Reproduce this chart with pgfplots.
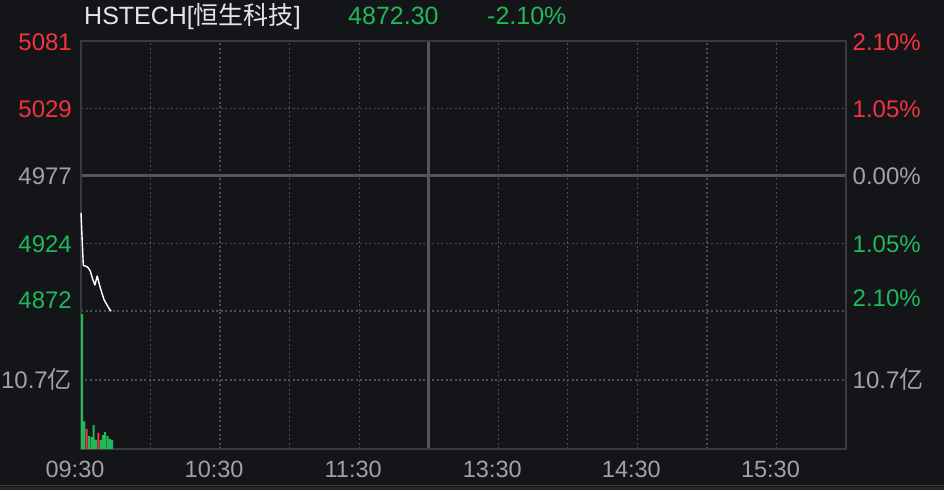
\documentclass[border=0pt]{standalone}
\usepackage{pgfplots}
\pgfplotsset{compat=1.18}
\usepackage{fontspec}
\setmainfont{Liberation Sans}
\newfontfamily\cjk{Noto Sans CJK SC}
\definecolor{bgc}{HTML}{141519}
\definecolor{gridc}{HTML}{4D4E52}
\definecolor{borderc}{HTML}{393A3E}
\definecolor{midc}{HTML}{55565A}
\definecolor{redc}{HTML}{F5333F}
\definecolor{greenc}{HTML}{1FB95A}
\definecolor{greyc}{HTML}{A2A2A2}
\definecolor{titlec}{HTML}{E6E6E6}
\tikzset{
  lblL/.style={anchor=base east, inner sep=0pt, xshift=-9pt, yshift=-8.6pt, font=\fontsize{24}{28}\selectfont},
  lblR/.style={anchor=base west, inner sep=0pt, xshift=6.5pt, yshift=-8.6pt, font=\fontsize{24}{28}\selectfont},
  tlbl/.style={anchor=base, inner sep=0pt, xshift=-6pt, yshift=-28.4pt, text=greyc, font=\fontsize{23.5}{28}\selectfont},
}
\pgfplotsset{
  panel/.style={
    scale only axis, width=765pt, xmin=0, xmax=330,
    axis line style={draw=none}, tick style={draw=none},
    xtick={30,60,90,120,180,210,240,270,300},
    xticklabels={}, yticklabels={},
    grid=major, major grid style={gridc, line width=1.2pt, dash pattern=on 2pt off 2.5pt},
    clip=false,
  }
}
\pgfplotstableread{
m price
0 4948.4
1 4907.6
2 4907.3
3 4906.2
4 4903.5
5 4897.3
6 4892.6
7 4899.6
8 4892.6
9 4886.4
10 4881.0
11 4877.9
12 4874.8
13 4872.3
}\pricetab
\begin{document}
\begin{tikzpicture}[x=1pt,y=1pt]
\path[use as bounding box] (0,0) rectangle (944,490);
\fill[bgc] (0,0) rectangle (944,490);
\fill[black!85] (0,0) rectangle (944,3.5);
\draw[borderc, line width=1.2pt] (0,4.2) -- (944,4.2);
% header
\node[anchor=base west, inner sep=0pt, text=titlec, font=\fontsize{25}{30}\selectfont] at (84,465) {HSTECH[{\cjk 恒生科技}]};
\node[anchor=base west, inner sep=0pt, text=greenc, font=\fontsize{25}{30}\selectfont] at (348,465) {4872.30};
\node[anchor=base west, inner sep=0pt, text=greenc, font=\fontsize{25}{30}\selectfont] at (487,465) {-2.10\%};
% price panel
\begin{axis}[panel, at={(81pt,179pt)}, anchor=south west, height=270pt,
  ymin=4872.5, ymax=5081.5, ytick={4872.5,4924.75,5029.25}]
  \draw[midc, line width=3pt] (axis cs:0,4977) -- (axis cs:330,4977);
  \draw[midc, line width=3pt] (axis cs:150,4872.5) -- (axis cs:150,5081.5);
  \draw[borderc, line width=1.3pt] (rel axis cs:0,0) -- (rel axis cs:0,1) -- (rel axis cs:1,1) -- (rel axis cs:1,0);
  \addplot[white, line width=1.4pt, line join=round] table[x=m, y=price] {\pricetab};
  \node[lblL, text=redc, yshift=-1pt] at (axis cs:0,5081.5) {5081};
  \node[lblL, text=redc] at (axis cs:0,5029.25) {5029};
  \node[lblL, text=greyc] at (axis cs:0,4977) {4977};
  \node[lblL, text=greenc] at (axis cs:0,4924.75) {4924};
  \node[lblL, text=greenc, yshift=11pt] at (axis cs:0,4872.5) {4872};
  \node[lblR, text=redc, yshift=-1pt] at (axis cs:330,5081.5) {2.10\%};
  \node[lblR, text=redc] at (axis cs:330,5029.25) {1.05\%};
  \node[lblR, text=greyc] at (axis cs:330,4977) {0.00\%};
  \node[lblR, text=greenc] at (axis cs:330,4924.75) {1.05\%};
  \node[lblR, text=greenc, yshift=13pt] at (axis cs:330,4872.5) {2.10\%};
\end{axis}
% volume panel
\begin{axis}[panel, at={(81pt,41pt)}, anchor=south west, height=138pt,
  ymin=0, ymax=21.4, ytick={10.7}]
  \draw[midc, line width=3pt] (axis cs:150,0) -- (axis cs:150,21.4);
  \draw[borderc, line width=1.3pt] (rel axis cs:0,1) -- (rel axis cs:0,0) -- (rel axis cs:1,0) -- (rel axis cs:1,1);
  \addplot[ybar, bar width=2pt, bar shift=0pt, fill=greenc, draw=none] coordinates {
    (0.45,20.9) (1.45,4.3) (3.45,2.0) (4.45,1.86) (5.45,3.7) (6.45,1.4)
    (8.45,1.4) (9.45,2.2) (10.45,2.6) (11.45,2.0) (12.45,1.55) (13.45,1.4)};
  \addplot[ybar, bar width=2pt, bar shift=0pt, fill=redc, draw=none] coordinates {
    (2.45,3.1) (7.45,2.5)};
  \node[lblL, text=greyc] at (axis cs:0,10.7) {10.7{\cjk 亿}};
  \node[lblR, text=greyc] at (axis cs:330,10.7) {10.7{\cjk 亿}};
  \node[tlbl] at (axis cs:0,0) {09:30};
  \node[tlbl] at (axis cs:60,0) {10:30};
  \node[tlbl] at (axis cs:120,0) {11:30};
  \node[tlbl] at (axis cs:180,0) {13:30};
  \node[tlbl] at (axis cs:240,0) {14:30};
  \node[tlbl] at (axis cs:300,0) {15:30};
\end{axis}
\end{tikzpicture}
\end{document}
